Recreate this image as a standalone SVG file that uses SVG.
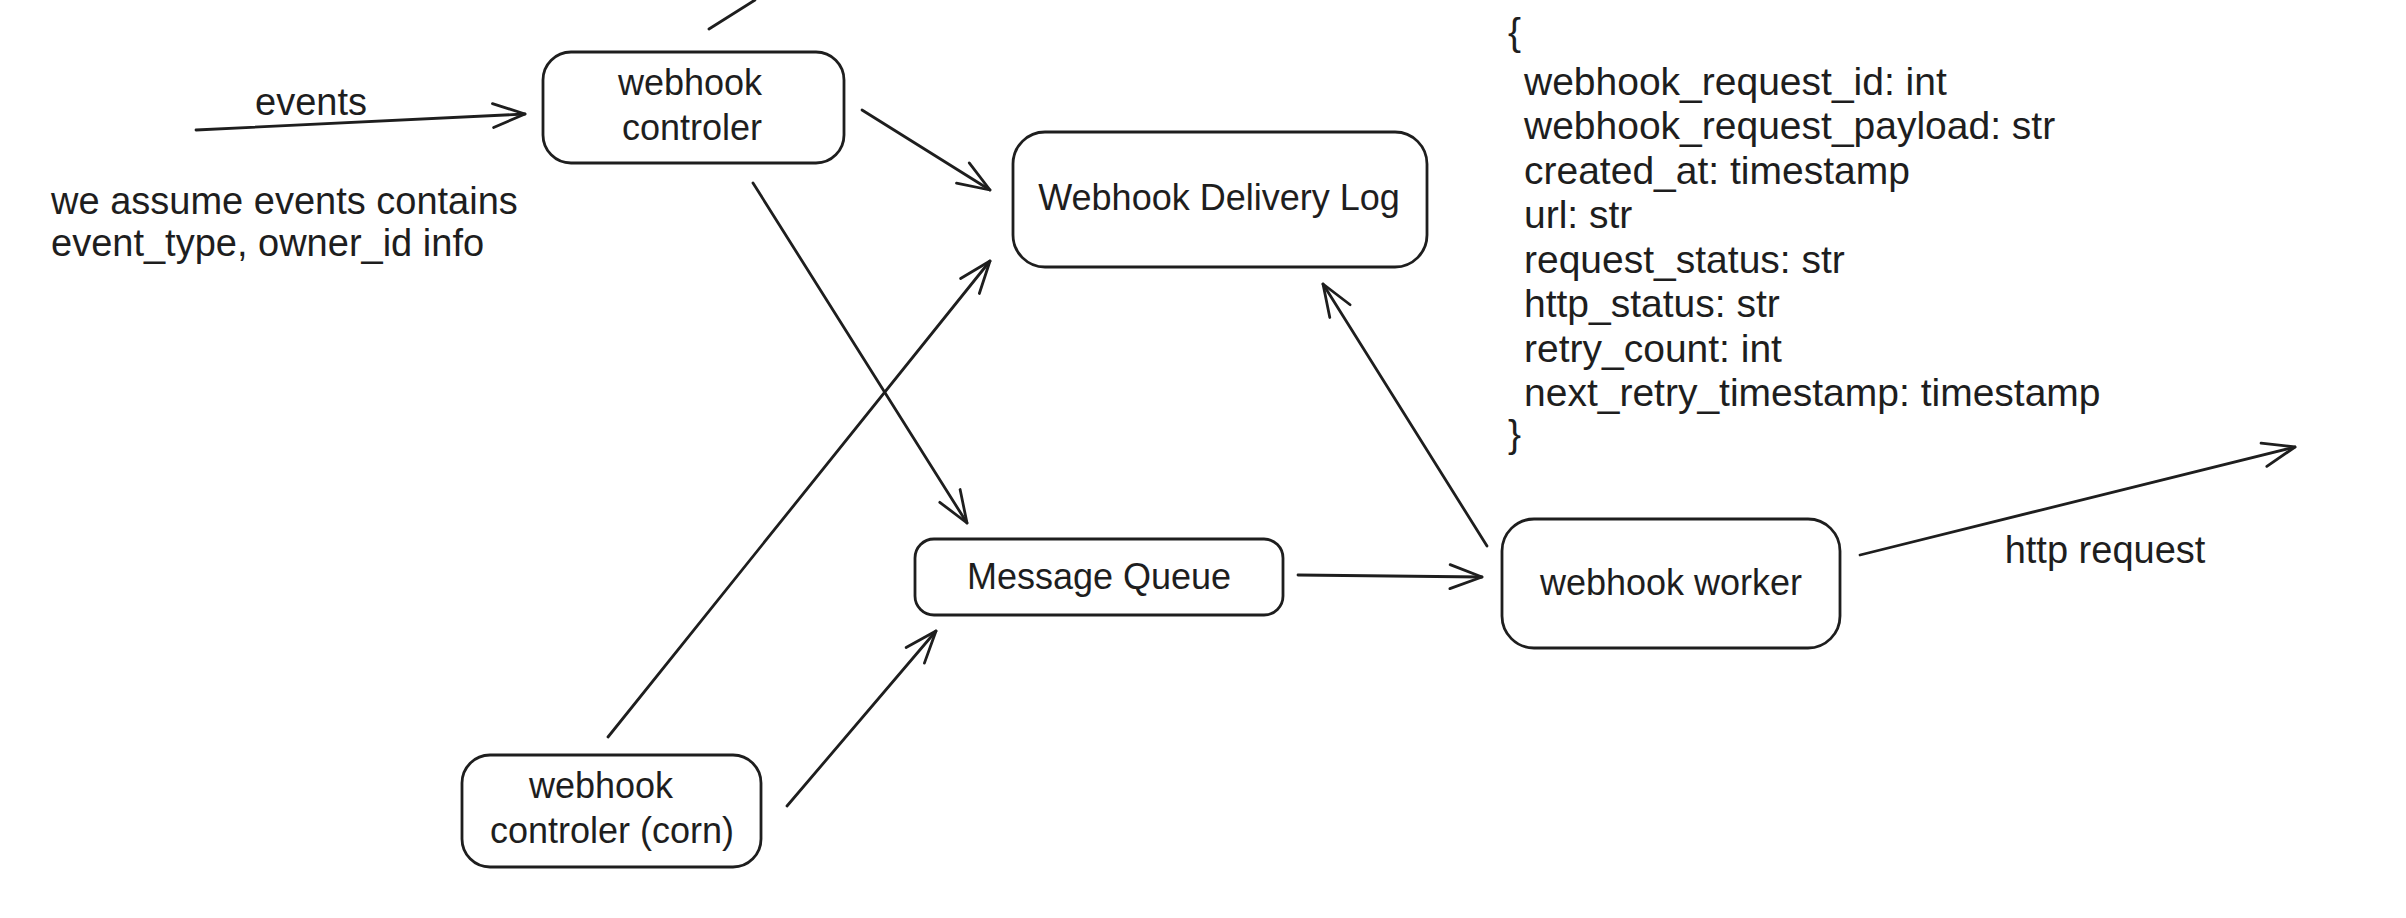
<svg xmlns="http://www.w3.org/2000/svg" width="2406" height="918" viewBox="0 0 2406 918">
<style>
.box{fill:none;stroke:#1e1e1e;stroke-width:2.8;stroke-linejoin:round}
.t{font-family:"Liberation Sans","Noto Sans",Arial,sans-serif;font-size:36px;fill:#1e1e1e}
.c{text-anchor:middle}
.j{font-size:39px}
.n{font-size:38px}
.edge{fill:none;stroke:#1e1e1e;stroke-width:2.8;stroke-linecap:round}
.arr{marker-end:url(#ah)}
</style>
<defs>
<marker id="ah" markerUnits="userSpaceOnUse" markerWidth="44" markerHeight="44" viewBox="-38 -22 44 44" refX="0" refY="0" orient="auto">
<path d="M-32,-12 L0,0 L-32,12" fill="none" stroke="#1e1e1e" stroke-width="2.8" stroke-linecap="round" stroke-linejoin="round"/>
</marker>
</defs>
<rect width="2406" height="918" fill="#ffffff"/>

<g id="connectors">
<path class="edge" d="M709,29 L755,0"/>
<path class="edge arr" d="M196,130 L525,114"/>
<path class="edge arr" d="M862,110 L990,190"/>
<path class="edge arr" d="M753,183 L967,523"/>
<path class="edge arr" d="M608,737 L990,261"/>
<path class="edge arr" d="M787,806 L936,631"/>
<path class="edge arr" d="M1298,575 L1482,577"/>
<path class="edge arr" d="M1487,546 L1323,284"/>
<path class="edge arr" d="M1860,555 L2295,447"/>
</g>

<g id="events-label">
<text class="t c n" x="311" y="115">events</text>
</g>

<g id="note">
<text class="t n" x="51" y="214">we assume events contains</text>
<text class="t n" x="51" y="256">event_type, owner_id info</text>
</g>

<g id="webhook-controler">
<rect class="box" x="543" y="52" width="301" height="111" rx="28"/>
<text class="t c" x="690" y="95">webhook</text>
<text class="t c" x="692" y="140">controler</text>
</g>

<g id="webhook-delivery-log">
<rect class="box" x="1013" y="132" width="414" height="135" rx="32"/>
<text class="t c" x="1219" y="210">Webhook Delivery Log</text>
</g>

<g id="message-queue">
<rect class="box" x="915" y="539" width="368" height="76" rx="19"/>
<text class="t c" x="1099" y="589">Message Queue</text>
</g>

<g id="webhook-worker">
<rect class="box" x="1502" y="519" width="338" height="129" rx="32"/>
<text class="t c" x="1671" y="595">webhook worker</text>
</g>

<g id="webhook-controler-corn">
<rect class="box" x="462" y="755" width="299" height="112" rx="28"/>
<text class="t c" x="601" y="798">webhook</text>
<text class="t c" x="612" y="843">controler (corn)</text>
</g>

<g id="http-request-label">
<text class="t c n" x="2105" y="563">http request</text>
</g>

<g id="schema">
<text class="t j" x="1508" y="45">{</text>
<text class="t j" x="1524" y="95">webhook_request_id: int</text>
<text class="t j" x="1524" y="139">webhook_request_payload: str</text>
<text class="t j" x="1524" y="184">created_at: timestamp</text>
<text class="t j" x="1524" y="228">url: str</text>
<text class="t j" x="1524" y="273">request_status: str</text>
<text class="t j" x="1524" y="317">http_status: str</text>
<text class="t j" x="1524" y="362">retry_count: int</text>
<text class="t j" x="1524" y="406">next_retry_timestamp: timestamp</text>
<text class="t j" x="1508" y="447">}</text>
</g>
</svg>
